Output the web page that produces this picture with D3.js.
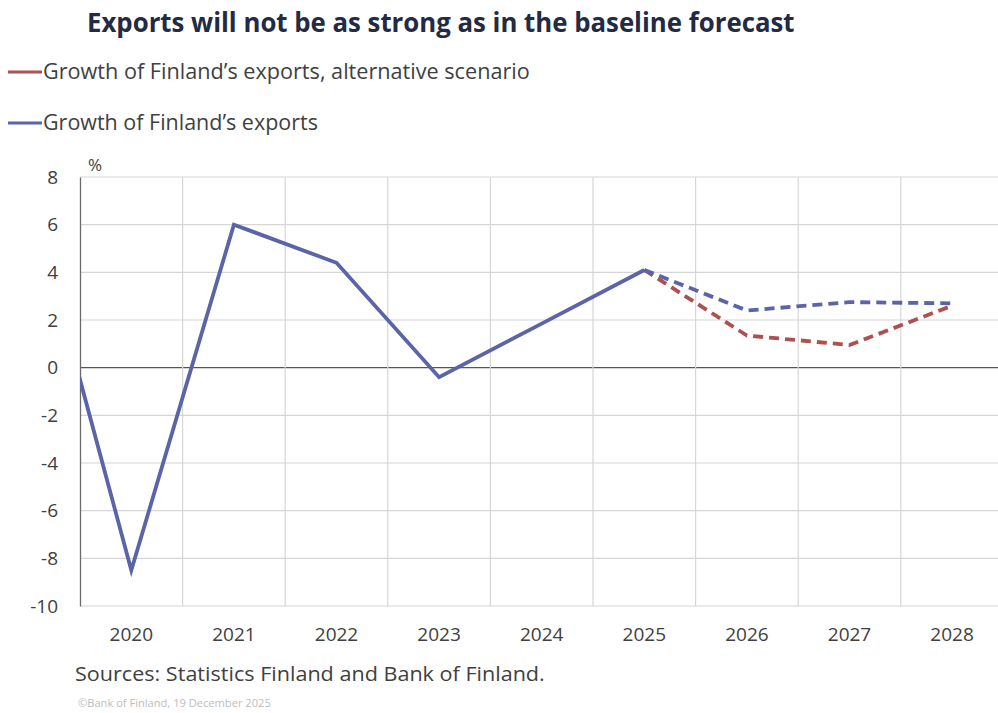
<!DOCTYPE html>
<html>
<head>
<meta charset="utf-8">
<script src="https://cdn.jsdelivr.net/npm/d3@7"></script>
<style>
  body { margin: 0; background: #fff; }
  svg { display: block; font-family: "Open Sans", "Noto Sans", sans-serif; }
</style>
</head>
<body>
<script>
// data
var years = ['2019', '2020', '2021', '2022', '2023', '2024', '2025', '2026', '2027', '2028'];
var axisYears = ['2020', '2021', '2022', '2023', '2024', '2025', '2026', '2027', '2028'];
var actual = [7.5, -8.5, 6.0, 4.4, -0.4, 1.85, 4.1, null, null, null];
var baselineForecast = [null, null, null, null, null, null, 4.1, 2.4, 2.75, 2.7];
var altForecast = [null, null, null, null, null, null, 4.1, 1.35, 0.95, 2.6];
var yTicks = [8, 6, 4, 2, 0, -2, -4, -6, -8, -10];

var width = 998, height = 713;
var margin = {left: 80, top: 177, right: 0, bottom: 107};
var innerH = height - margin.top - margin.bottom;

var blue = "#5a64a6", red = "#ad5050";

var x = d3.scaleBand()
    .domain(axisYears)
    .range([0, 9 * 102.6]);
var step = x.step();
// position for any year (2019 lies half a step left of the plot, then gets clipped)
function xPos(yr) { return x('2020') + step / 2 + (+yr - 2020) * step; }

var y = d3.scaleLinear()
    .domain([-10, 8])
    .range([innerH, 0]);

var svg = d3.select("body").append("svg")
    .attr("width", width)
    .attr("height", height);

// text scaled horizontally to a given width
function fitText(sel, x0, y0, len, size, txt, weight) {
    var t = sel.append("text").attr("x", 0).attr("y", 0)
        .attr("font-size", size).attr("font-weight", weight || "normal").text(txt);
    var w = t.node().getComputedTextLength();
    t.attr("transform", "translate(" + x0 + "," + y0 + ") scale(" + (len / w) + ",1)");
    return t;
}

// title
fitText(svg, 87, 32, 708, 27, "Exports will not be as strong as in the baseline forecast", "bold")
    .attr("fill", "#222a44");

// legend
var legend = [
    {label: "Growth of Finland\u2019s exports, alternative scenario", color: red, y: 72, len: 487},
    {label: "Growth of Finland\u2019s exports", color: blue, y: 123, len: 275}
];
legend.forEach(function(l) {
    svg.append("line")
        .attr("x1", 8).attr("x2", 42).attr("y1", l.y).attr("y2", l.y)
        .attr("stroke", l.color).attr("stroke-width", 3);
    fitText(svg, 43, l.y + 7, l.len, 21, l.label).attr("fill", "#404040");
});

svg.append("text")
    .attr("x", 88).attr("y", 171)
    .attr("font-size", 17).attr("fill", "#404040")
    .text("%");

var chartGroup = svg.append("g").attr("transform", "translate(" + margin.left + "," + margin.top + ")");

chartGroup.append("clipPath").attr("id", "plotclip")
  .append("rect").attr("x", 0).attr("y", -10).attr("width", width).attr("height", innerH + 20);

// horizontal gridlines
chartGroup.selectAll(".hgrid").data(yTicks).enter().append("line")
    .attr("x1", 0).attr("x2", width)
    .attr("y1", function(d) { return y(d); }).attr("y2", function(d) { return y(d); })
    .attr("stroke", function(d) { return d === 0 ? "#555" : "#d6d6d6"; })
    .attr("stroke-width", function(d) { return d === 0 ? 1.3 : 1.2; });

// vertical gridlines at category boundaries
chartGroup.selectAll(".vgrid").data(axisYears.slice(1)).enter().append("line")
    .attr("x1", function(d) { return x(d); }).attr("x2", function(d) { return x(d); })
    .attr("y1", 0).attr("y2", innerH)
    .attr("stroke", "#d6d6d6").attr("stroke-width", 1.2);

// y axis
var yAxis = d3.axisLeft(y).tickValues(yTicks).tickSize(0).tickPadding(22)
    .tickFormat(function(d) { return String(d); });
var ya = chartGroup.append("g").call(yAxis);
ya.select(".domain").attr("stroke", "#6b6b6b").attr("stroke-width", 1.3);
ya.selectAll("text").attr("font-size", 19).attr("fill", "#404040")
    .attr("font-family", "Open Sans, sans-serif").attr("text-anchor", "end");

// x axis labels
var xAxis = d3.axisBottom(x).tickSize(0).tickPadding(22);
var xa = chartGroup.append("g").attr("transform", "translate(0," + innerH + ")").call(xAxis);
xa.select(".domain").remove();
xa.selectAll("text").attr("font-size", 19).attr("fill", "#404040")
    .attr("font-family", "Open Sans, sans-serif");

// lines
var line = d3.line()
    .defined(function(d) { return d.v !== null; })
    .x(function(d) { return xPos(d.yr); })
    .y(function(d) { return y(d.v); });

function series(vals) { return years.map(function(yr, i) { return {yr: yr, v: vals[i]}; }); }

var lines = chartGroup.append("g").attr("clip-path", "url(#plotclip)");

lines.append("path").attr("d", line(series(altForecast)))
    .attr("fill", "none").attr("stroke", red).attr("stroke-width", 3.8)
    .attr("stroke-dasharray", "10,6").attr("stroke-linejoin", "round");
lines.append("path").attr("d", line(series(baselineForecast)))
    .attr("fill", "none").attr("stroke", blue).attr("stroke-width", 3.8)
    .attr("stroke-dasharray", "10,6").attr("stroke-linejoin", "round");
lines.append("path").attr("d", line(series(actual)))
    .attr("fill", "none").attr("stroke", blue).attr("stroke-width", 3.8)
    .attr("stroke-linejoin", "miter");

// sources
fitText(svg, 75, 681, 470, 20, "Sources: Statistics Finland and Bank of Finland.")
    .attr("fill", "#404040");

fitText(svg, 78, 707, 193, 10, "\u00a9Bank of Finland, 19 December 2025")
    .attr("fill", "#bdbdbd");
</script>
</body>
</html>
